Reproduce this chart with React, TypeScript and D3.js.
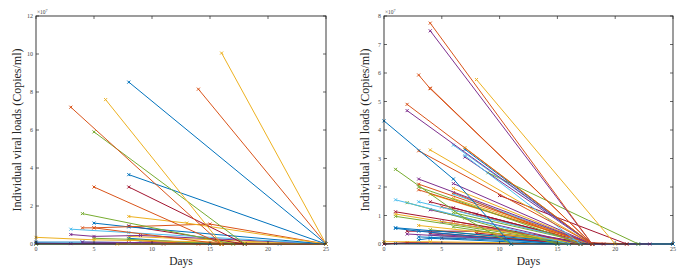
import React from "react";
import { scaleLinear, line } from "d3";

// MATLAB default colour order
const palette = ["#0072BD", "#D95319", "#EDB120", "#7E2F8E", "#77AC30", "#4DBEEE", "#A2142F"];

type Series = { c: number; pts: [number, number][] };

// viral loads in units of 1e7 copies/ml, [day, load]
const leftSeries: Series[] = [
  { c: 0, pts: [[0, 0], [25, 0]] },
  { c: 6, pts: [[0, 0.02], [11, 0], [25, 0]] },
  { c: 4, pts: [[0, 0], [16, 0], [25, 0]] },
  { c: 3, pts: [[0, 0.05], [3, 0.02], [18, 0]] },
  { c: 0, pts: [[0, 0.1], [4, 0.1], [21, 0]] },
  { c: 5, pts: [[8, 0.05], [9, 0.1], [25, 0]] },
  { c: 2, pts: [[7, 0], [17, 0], [25, 0]] },
  { c: 3, pts: [[4, 0.1], [15, 0.05], [25, 0]] },
  { c: 1, pts: [[8, 0.2], [14, 0], [25, 0]] },
  { c: 2, pts: [[8, 0.4], [20, 0.1], [25, 0]] },
  { c: 0, pts: [[8, 0.3], [15, 0]] },
  { c: 4, pts: [[5, 0.3], [8, 0.25], [16, 0]] },
  { c: 2, pts: [[0, 0.35], [5, 0.22], [25, 0]] },
  { c: 3, pts: [[3, 0.5], [5, 0.4], [9, 0.45], [25, 0]] },
  { c: 6, pts: [[8, 0.95], [18, 0]] },
  { c: 5, pts: [[3, 0.78], [8, 0.6], [25, 0]] },
  { c: 1, pts: [[4, 0.85], [5, 0.85], [16, 0]] },
  { c: 0, pts: [[5, 1.1], [8, 0.9], [25, 0]] },
  { c: 1, pts: [[5, 0.85], [15, 1.05], [25, 0]] },
  { c: 2, pts: [[8, 1.45], [13, 1.1], [25, 0]] },
  { c: 4, pts: [[4, 1.6], [17, 0]] },
  { c: 1, pts: [[5, 3.0], [16, 0]] },
  { c: 6, pts: [[8, 3.0], [18, 0]] },
  { c: 0, pts: [[8, 3.65], [25, 0]] },
  { c: 4, pts: [[5, 5.9], [18, 0]] },
  { c: 1, pts: [[3, 7.2], [16, 0]] },
  { c: 2, pts: [[6, 7.6], [16, 0]] },
  { c: 1, pts: [[14, 8.15], [25, 0]] },
  { c: 0, pts: [[8, 8.52], [25, 0]] },
  { c: 2, pts: [[16, 10.05], [25, 0]] },
];

const rightSeries: Series[] = [
  { c: 0, pts: [[0, 0], [1, 0.02], [25, 0]] },
  { c: 0, pts: [[11, 0], [22, 0], [25, 0]] },
  { c: 3, pts: [[18, 0], [23, 0]] },
  { c: 6, pts: [[0, 0], [2, 0.05], [18, 0]] },
  { c: 2, pts: [[0, 0.08], [4, 0.08], [18, 0]] },
  { c: 6, pts: [[5, 0.2], [7, 0.22], [18, 0]] },
  { c: 2, pts: [[5, 0.3], [18, 0]] },
  { c: 3, pts: [[4, 0.35], [18, 0]] },
  { c: 0, pts: [[3, 0.15], [4, 0.2], [15, 0]] },
  { c: 0, pts: [[3, 0.25], [18, 0]] },
  { c: 1, pts: [[8, 0.2], [21, 0]] },
  { c: 5, pts: [[4, 0.3], [16, 0]] },
  { c: 4, pts: [[4, 0.5], [16, 0]] },
  { c: 6, pts: [[8, 0.38], [19, 0]] },
  { c: 3, pts: [[2, 0.35], [18, 0]] },
  { c: 6, pts: [[2, 0.45], [8, 0.45], [18, 0]] },
  { c: 6, pts: [[4, 0.4], [17, 0]] },
  { c: 4, pts: [[6, 0.6], [16, 0]] },
  { c: 3, pts: [[5, 0.78], [18, 0]] },
  { c: 1, pts: [[6, 0.8], [17, 0]] },
  { c: 2, pts: [[3, 0.65], [18, 0]] },
  { c: 0, pts: [[1, 0.55], [3, 0.45], [15, 0]] },
  { c: 0, pts: [[1, 0.57], [18, 0]] },
  { c: 4, pts: [[1, 0.97], [17, 0]] },
  { c: 2, pts: [[1, 1.05], [17, 0]] },
  { c: 6, pts: [[1, 1.13], [18, 0]] },
  { c: 3, pts: [[8, 1.05], [18, 0]] },
  { c: 4, pts: [[6, 1.1], [18, 0]] },
  { c: 3, pts: [[4, 1.2], [17, 0]] },
  { c: 6, pts: [[6, 1.27], [18, 0]] },
  { c: 1, pts: [[5, 1.3], [18, 0]] },
  { c: 6, pts: [[4, 1.48], [18, 0]] },
  { c: 4, pts: [[2, 1.45], [15, 0]] },
  { c: 5, pts: [[3, 1.48], [18, 0]] },
  { c: 5, pts: [[1, 1.55], [16, 0]] },
  { c: 2, pts: [[6, 1.6], [18, 0]] },
  { c: 5, pts: [[6, 1.75], [18, 0]] },
  { c: 1, pts: [[6, 1.8], [17, 0]] },
  { c: 2, pts: [[4, 1.75], [18, 0]] },
  { c: 1, pts: [[3, 1.9], [18, 0]] },
  { c: 2, pts: [[6, 1.95], [18, 0]] },
  { c: 4, pts: [[3, 2.0], [17, 0]] },
  { c: 1, pts: [[3, 2.1], [18, 0]] },
  { c: 3, pts: [[6, 2.12], [18, 0]] },
  { c: 3, pts: [[3, 2.28], [18, 0]] },
  { c: 4, pts: [[1, 2.62], [7, 0.9], [11, 0]] },
  { c: 6, pts: [[10, 1.7], [21, 0]] },
  { c: 4, pts: [[9, 2.5], [22, 0]] },
  { c: 3, pts: [[7, 3.05], [18, 0]] },
  { c: 5, pts: [[7, 3.1], [17, 0]] },
  { c: 0, pts: [[7, 3.32], [18, 0]] },
  { c: 2, pts: [[7, 3.38], [18, 0]] },
  { c: 5, pts: [[6, 3.47], [18, 0]] },
  { c: 2, pts: [[4, 3.3], [18, 0]] },
  { c: 1, pts: [[3, 3.27], [18, 0]] },
  { c: 0, pts: [[0, 4.32], [6, 2.28], [11, 0]] },
  { c: 3, pts: [[2, 4.68], [18, 0]] },
  { c: 1, pts: [[2, 4.9], [18, 0]] },
  { c: 1, pts: [[4, 5.47], [18, 0]] },
  { c: 1, pts: [[3, 5.93], [4, 5.45], [18, 0]] },
  { c: 2, pts: [[8, 5.77], [20, 0]] },
  { c: 3, pts: [[4, 7.48], [18, 0]] },
  { c: 1, pts: [[4, 7.75], [18, 0]] },
];

const xTicks = [0, 5, 10, 15, 20, 25];
const leftYTicks = [0, 2, 4, 6, 8, 10, 12];
const rightYTicks = [0, 1, 2, 3, 4, 5, 6, 7, 8];

const serif = "'Liberation Serif', 'DejaVu Serif', serif";
const axisColor = "#262626";

type PanelProps = {
  left: number;
  right: number;
  series: Series[];
  yTicks: number[];
};

const Panel = ({ left, right, series, yTicks }: PanelProps) => {
  const top = 16;
  const bottom = 244;
  const x = scaleLinear().domain([0, 25]).range([left, right]);
  const y = scaleLinear().domain([0, yTicks[yTicks.length - 1]]).range([bottom, top]);
  const gen = line<[number, number]>()
    .x((d) => x(d[0]))
    .y((d) => y(d[1]));
  const m = 1.5;
  const tl = 3;

  return (
    <g>
      {series.map((s, i) => (
        <g key={i} stroke={palette[s.c]} fill="none" strokeWidth={1}>
          <path d={gen(s.pts) || ""} />
          {s.pts.map((p, j) => {
            const cx = x(p[0]);
            const cy = y(p[1]);
            return (
              <path
                key={j}
                d={`M${cx - m},${cy - m}L${cx + m},${cy + m}M${cx - m},${cy + m}L${cx + m},${cy - m}`}
              />
            );
          })}
        </g>
      ))}
      {/* box */}
      <rect x={left} y={top} width={right - left} height={bottom - top} fill="none" stroke={axisColor} strokeWidth={0.9} />
      {/* x ticks */}
      {xTicks.map((t) => (
        <g key={"x" + t}>
          <line x1={x(t)} x2={x(t)} y1={bottom} y2={bottom - tl} stroke={axisColor} strokeWidth={0.7} />
          <line x1={x(t)} x2={x(t)} y1={top} y2={top + tl} stroke={axisColor} strokeWidth={0.7} />
          <text x={x(t)} y={bottom + 7} fontSize={6} textAnchor="middle" fill="#444" fontFamily={serif}>
            {t}
          </text>
        </g>
      ))}
      {/* y ticks */}
      {yTicks.map((t) => (
        <g key={"y" + t}>
          <line x1={left} x2={left + tl} y1={y(t)} y2={y(t)} stroke={axisColor} strokeWidth={0.7} />
          <line x1={right} x2={right - tl} y1={y(t)} y2={y(t)} stroke={axisColor} strokeWidth={0.7} />
          <text x={left - 3} y={y(t) + 2} fontSize={6} textAnchor="end" fill="#444" fontFamily={serif}>
            {t}
          </text>
        </g>
      ))}
      <text x={left + 1} y={top - 2.5} fontSize={5.5} fill="#444" fontFamily={serif}>
        ×10
        <tspan fontSize={4} dy={-2}>7</tspan>
      </text>
      <text x={(left + right) / 2} y={265} fontSize={11.5} textAnchor="middle" fill={axisColor} fontFamily={serif}>
        Days
      </text>
      <text
        transform={`translate(${left - 15},${(top + bottom) / 2}) rotate(-90)`}
        fontSize={12}
        textAnchor="middle"
        fill={axisColor}
        fontFamily={serif}
      >
        Individual viral loads (Copies/ml)
      </text>
    </g>
  );
};

export default function App() {
  return (
    <svg
      width={687}
      height={270}
      style={{ position: "absolute", left: 0, top: 0, background: "#fff" }}
    >
      <Panel left={36} right={326} series={leftSeries} yTicks={leftYTicks} />
      <Panel left={384} right={673} series={rightSeries} yTicks={rightYTicks} />
    </svg>
  );
}
